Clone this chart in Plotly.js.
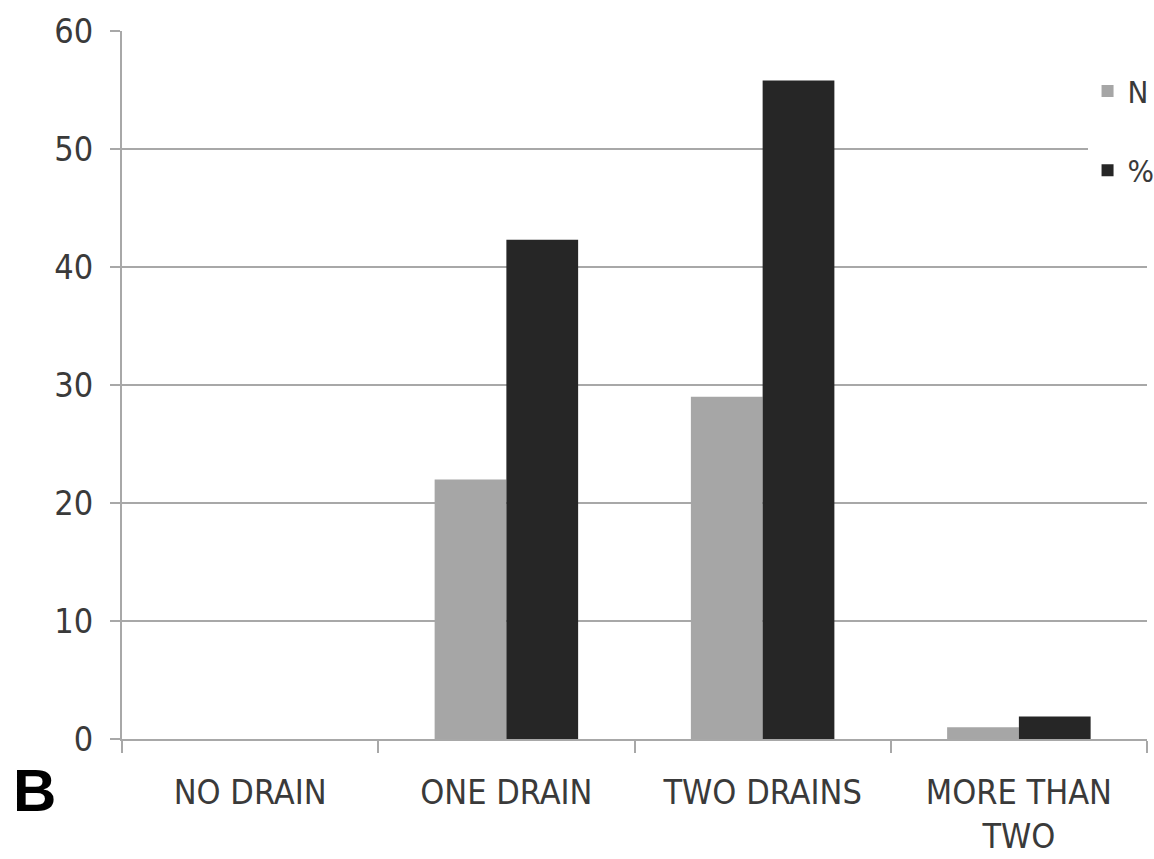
<!DOCTYPE html>
<html>
<head>
<meta charset="utf-8">
<script src="https://cdn.plot.ly/plotly-3.0.1.min.js"></script>
<style>html,body{margin:0;padding:0;background:#fff;}#chart{width:1154px;height:859px;}</style>
</head>
<body>
<div id="chart"></div>
<script>
const categories = ["NO DRAIN", "ONE DRAIN", "TWO DRAINS", "MORE THAN<br>TWO"];
const seriesNames = ["N", "%"];
const valuesN = [0, 22, 29, 1];
const valuesPct = [0, 42.3, 55.8, 1.9];
const yTicks = [0, 10, 20, 30, 40, 50, 60];

const FONT = "Liberation Sans Narrow, DejaVu Sans Condensed, Arial Narrow, sans-serif";
const TXT = "#3a3a3a";
const GRID = "#a8a8a8";

const traces = [
  {type: "bar", name: seriesNames[0], x: categories, y: valuesN,
   marker: {color: "#a6a6a6"}, legendgroup: "a", hoverinfo: "skip"},
  {type: "bar", name: seriesNames[1], x: categories, y: valuesPct,
   marker: {color: "#262626"}, legendgroup: "b", hoverinfo: "skip"}
];

const layout = {
  width: 1154, height: 859,
  margin: {l: 122, r: 7, t: 31, b: 120, autoexpand: false},
  paper_bgcolor: "#fff", plot_bgcolor: "#fff",
  barmode: "group", bargap: 0.44, bargroupgap: 0,
  font: {family: FONT, color: TXT, size: 34},
  showlegend: true,
  legend: {x: 0.942, xanchor: "left", y: 0.953, yanchor: "top",
           bgcolor: "#fff", font: {family: FONT, size: 31, color: TXT},
           traceorder: "grouped", tracegroupgap: 36, itemwidth: 30,
           borderwidth: 0},
  xaxis: {type: "category", showgrid: false, showline: true, linecolor: GRID, linewidth: 2,
          ticks: "outside", tickson: "boundaries", ticklen: 12, tickwidth: 2, tickcolor: GRID,
          tickfont: {family: FONT, size: 34, color: TXT}, ticklabelstandoff: 22,
          zeroline: false, fixedrange: true},
  yaxis: {range: [0, 60], tickvals: yTicks, showgrid: true, gridcolor: GRID, gridwidth: 2,
          showline: true, linecolor: GRID, linewidth: 2, ticks: "outside", ticklen: 10,
          tickwidth: 2, tickcolor: GRID, tickfont: {family: FONT, size: 34, color: TXT},
          ticklabelstandoff: 10, zeroline: false, fixedrange: true},
  annotations: [
    {text: "<b>B</b>", xref: "paper", yref: "paper", x: -0.108, y: -0.022,
     xanchor: "left", yanchor: "top", showarrow: false,
     font: {family: "Liberation Sans, Arial, sans-serif", size: 60, color: "#000"}}
  ]
};

Plotly.newPlot("chart", traces, layout, {displayModeBar: false, staticPlot: true});
</script>
</body>
</html>
